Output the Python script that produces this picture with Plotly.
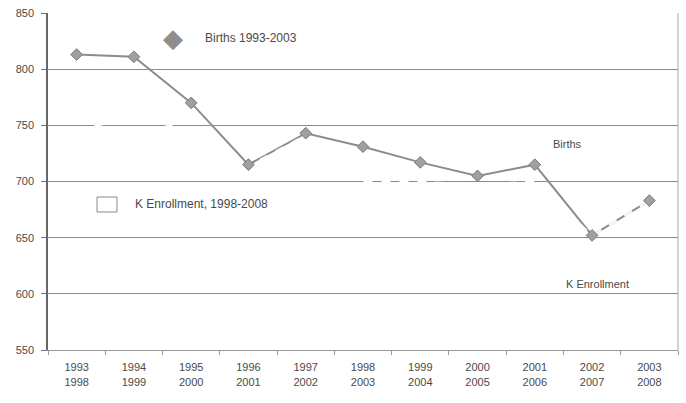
import plotly.graph_objects as go

# Category axis: birth year over the matching kindergarten year
birth_years = ["1993", "1994", "1995", "1996", "1997", "1998", "1999", "2000", "2001", "2002", "2003"]
k_years = ["1998", "1999", "2000", "2001", "2002", "2003", "2004", "2005", "2006", "2007", "2008"]
tick_labels = [f"{b}<br>{k}" for b, k in zip(birth_years, k_years)]

births = [813, 811, 770, 715, 743, 731, 717, 705, 715, 652, 683]
k_enrollment = [745, 758, 745, 714, 741, 700, 700, 703, 700, 652, 683]

y_ticks = [550, 600, 650, 700, 750, 800, 850]

FONT = "Liberation Sans, Arial, sans-serif"
TEXT = "#4a4a4a"

fig = go.Figure()

fig.add_trace(go.Scatter(
    x=tick_labels, y=births, mode="lines", name="Births 1993-2003",
    line=dict(color="#8c8c8c", width=2),
))

# Kindergarten enrollment series is drawn in white
fig.add_trace(go.Scatter(
    x=tick_labels, y=k_enrollment, mode="lines", name="K Enrollment, 1998-2008",
    line=dict(color="white", width=2, dash="dash"),
))

# Births markers kept on top of both lines
fig.add_trace(go.Scatter(
    x=tick_labels, y=births, mode="markers", name="Births 1993-2003",
    marker=dict(symbol="diamond", size=9, color="#a0a0a0",
                line=dict(color="#7a7a7a", width=1)),
))

fig.update_layout(
    width=686, height=403,
    margin=dict(l=48, r=8, t=13, b=53),
    paper_bgcolor="white", plot_bgcolor="white",
    showlegend=False,
    font=dict(family=FONT, size=10, color=TEXT),
    xaxis=dict(
        type="category", range=[-0.5, len(tick_labels) - 0.5],
        tickson="boundaries", ticks="outside", ticklen=4,
        tickcolor="#999999", showgrid=False, showline=True,
        linecolor="#999999", linewidth=1, ticklabelstandoff=7,
        tickfont=dict(family=FONT, size=11, color=TEXT),
    ),
    yaxis=dict(
        range=[550, 850], tickvals=y_ticks, ticks="outside", ticklen=5,
        tickcolor="#777777", showgrid=True, gridcolor="#8a8a8a", gridwidth=1,
        showline=True, linecolor="#666666", linewidth=1.5, mirror=False,
        zeroline=False, ticklabelstandoff=5,
        tickfont=dict(family=FONT, size=11, color=TEXT),
    ),
)

# right border of the plot area
fig.add_shape(type="line", xref="paper", yref="paper", x0=1, x1=1, y0=0, y1=1,
              line=dict(color="#a8a8a8", width=1))

# legend items placed inside the plot area
fig.add_annotation(text="◆", xref="paper", yref="paper", x=0.198, y=0.926,
                   xanchor="center", yanchor="middle", showarrow=False,
                   font=dict(size=26, color="#8e8e8e"))
fig.add_annotation(text="Births 1993-2003", xref="paper", yref="paper",
                   x=0.246, y=0.926, xanchor="left", yanchor="middle", showarrow=False,
                   font=dict(family=FONT, size=12, color=TEXT))
fig.add_shape(type="rect", xref="paper", yref="paper",
              x0=0.0778, x1=0.1095, y0=0.4095, y1=0.454,
              line=dict(color="#8a8a8a", width=1), fillcolor="white")
fig.add_annotation(text="K Enrollment, 1998-2008", xref="paper", yref="paper",
                   x=0.135, y=0.433, xanchor="left", yanchor="middle", showarrow=False,
                   font=dict(family=FONT, size=12, color=TEXT))

# series labels
fig.add_annotation(text="Births", xref="paper", yref="paper",
                   x=0.824, y=0.611, xanchor="center", yanchor="middle", showarrow=False,
                   font=dict(family=FONT, size=11, color=TEXT))
fig.add_annotation(text="K Enrollment", xref="paper", yref="paper",
                   x=0.873, y=0.196, xanchor="center", yanchor="middle", showarrow=False,
                   font=dict(family=FONT, size=11, color=TEXT))

fig.write_html("out.html")
